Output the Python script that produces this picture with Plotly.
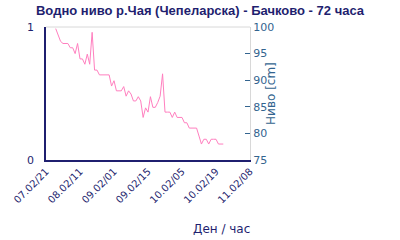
import plotly.graph_objects as go
import pandas as pd

# Hourly water level readings [cm]
times = pd.date_range("2021-02-08 01:00", periods=70, freq="h")
levels = [99.7, 98.6, 97.3, 96.9, 96.9, 96.9, 96.1, 96.1, 95.0, 96.9,
          94.0, 94.0, 93.0, 94.9, 93.0, 99.0, 91.9, 91.9, 91.0, 91.0,
          91.0, 91.0, 91.0, 88.9, 89.9, 88.0, 88.0, 88.0, 88.8, 87.0,
          88.0, 87.4, 86.1, 86.1, 86.9, 86.1, 83.0, 84.8, 84.0, 86.9,
          84.9, 84.9, 85.8, 87.0, 91.2, 84.0, 84.0, 84.0, 83.0, 84.0,
          83.0, 83.0, 83.0, 82.0, 82.0, 81.0, 81.0, 81.0, 81.0, 79.5,
          78.0, 78.9, 78.9, 78.0, 78.9, 78.9, 78.9, 78.0, 78.0, 78.0]

tick_times = ["2021-02-07 21:00", "2021-02-08 11:00", "2021-02-09 01:00",
              "2021-02-09 15:00", "2021-02-10 05:00", "2021-02-10 19:00",
              "2021-02-11 09:00"]
tick_labels = ["07.02/21", "08.02/11", "09.02/01", "09.02/15",
               "10.02/05", "10.02/19", "11.02/08"]
level_ticks = [75, 80, 85, 90, 95, 100]

navy = "#1f1f6f"
steel = "#33648f"
font = "DejaVu Sans"

fig = go.Figure()
# invisible companion trace so the left 0..1 axis is drawn
fig.add_trace(go.Scatter(x=times, y=levels, mode="lines", yaxis="y", opacity=0,
                         hoverinfo="skip", showlegend=False))
fig.add_trace(go.Scatter(x=times, y=levels, mode="lines", yaxis="y2",
                         line=dict(color="#ff7fbf", width=1), showlegend=False))

fig.update_layout(
    width=400, height=240,
    margin=dict(l=40, r=150, t=27, b=80),
    paper_bgcolor="white", plot_bgcolor="white",
    title=dict(text="<b>Водно ниво р.Чая (Чепеларска) - Бачково - 72 часа</b>",
               x=0.5, xref="container", xanchor="center",
               y=0.958, yref="container", yanchor="middle",
               font=dict(family="Liberation Sans", size=13, color=navy)),
    xaxis=dict(range=[tick_times[0], tick_times[-1]], tickvals=tick_times,
               ticktext=tick_labels, tickangle=-45, showgrid=False, zeroline=False,
               showline=True, linecolor=navy, linewidth=1.5, ticks="",
               tickfont=dict(family=font, size=10, color=navy)),
    yaxis=dict(range=[0, 1], tickvals=[0, 1], showgrid=False, zeroline=False,
               showline=True, linecolor=navy, linewidth=1.5, ticks="",
               ticklabelstandoff=8,
               tickfont=dict(family=font, size=11, color=navy)),
    yaxis2=dict(range=[75, 100], tickvals=level_ticks, overlaying="y", side="right",
                showgrid=False, zeroline=False, showline=True, linecolor="#d8d8d8",
                ticks="inside", ticklen=5, tickcolor=steel,
                tickfont=dict(family=font, size=11, color=steel)),
    shapes=[dict(type="line", xref="paper", yref="paper", x0=0, x1=1, y0=1, y1=1,
                 line=dict(color="#d8d8d8", width=1), layer="below")],
    annotations=[
        dict(text="Ниво [cm]", textangle=-90, xref="paper", yref="paper",
             x=1.10, y=0.5, xanchor="center", yanchor="middle", showarrow=False,
             font=dict(family=font, size=12, color=steel)),
        dict(text="Ден / час", xref="paper", yref="paper", x=0.86, y=-0.52,
             xanchor="center", yanchor="middle", showarrow=False,
             font=dict(family=font, size=12, color=navy)),
    ],
)

fig.write_html("out.html")
